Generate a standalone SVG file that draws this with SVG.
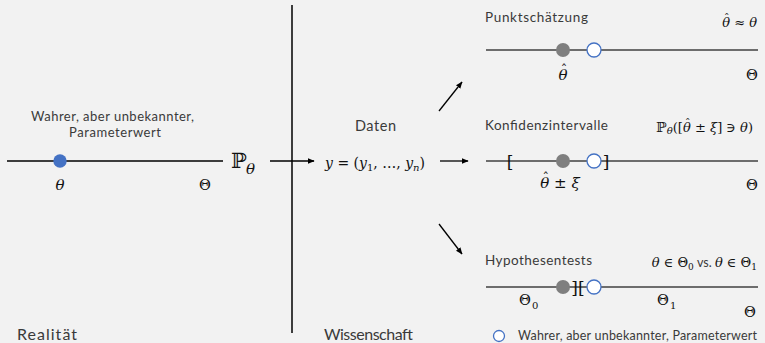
<svg xmlns="http://www.w3.org/2000/svg" width="765" height="343" viewBox="0 0 765 343">
<style>
.sans{font-family:Lato,"Open Sans","Liberation Sans",sans-serif;fill:#3a3a3a}
.math{font-family:"DejaVu Serif","Liberation Serif",serif;fill:#111}
.it{font-style:italic}
.axis{stroke:#404040;stroke-width:1.3;fill:none}
.blk{stroke:#000;stroke-width:1.3;fill:none}
.est{fill:#7f7f7f}
.true{fill:#fff;stroke:#4472c4;stroke-width:1.3}
</style>
<defs>
<marker id="ah" viewBox="0 0 10 10" refX="9" refY="5" markerWidth="7" markerHeight="7" orient="auto" markerUnits="userSpaceOnUse">
<path d="M0,1 L10,5 L0,9 Z" fill="#000"/>
</marker>
</defs>
<rect width="765" height="343" fill="#f2f2f2"/>
<line x1="292" y1="5" x2="292" y2="333" stroke="#000" stroke-width="1.5"/>
<g id="reality">
<text class="sans" x="31" y="121" font-size="13" textLength="163" lengthAdjust="spacing">Wahrer, aber unbekannter,</text>
<text class="sans" x="69" y="137" font-size="13" textLength="92" lengthAdjust="spacing">Parameterwert</text>
<line class="blk" x1="7" y1="161" x2="223" y2="161"/>
<circle cx="60" cy="161" r="6.7" fill="#4472c4"/>
<text class="math it" x="60" y="190" font-size="15" text-anchor="middle">θ</text>
<text class="math" x="205" y="190" font-size="14.5" text-anchor="middle">Θ</text>
<text class="math" x="231" y="168" font-size="21">ℙ</text>
<text class="math it" x="246" y="174" font-size="15">θ</text>
<text class="sans" x="17" y="340" font-size="16" textLength="60" lengthAdjust="spacing">Realität</text>
</g>
<g id="data">
<text class="sans" x="355" y="131" font-size="14.5" textLength="41" lengthAdjust="spacing">Daten</text>
<text class="math" x="375" y="168" font-size="14" text-anchor="middle"><tspan class="it">y</tspan> = (<tspan class="it">y</tspan><tspan font-size="10" dy="3">1</tspan><tspan dy="-3">, …, </tspan><tspan class="it">y</tspan><tspan class="it" font-size="10" dy="3">n</tspan><tspan dy="-3">)</tspan></text>
<text class="sans" x="324" y="340" font-size="16" textLength="89" lengthAdjust="spacing">Wissenschaft</text>
</g>
<g id="connectors">
<line class="blk" x1="270" y1="161" x2="314" y2="161" marker-end="url(#ah)"/>
<line class="blk" x1="440" y1="161" x2="468" y2="161" marker-end="url(#ah)"/>
<line class="blk" x1="439" y1="111" x2="462" y2="82" marker-end="url(#ah)"/>
<line class="blk" x1="439" y1="224" x2="462" y2="254" marker-end="url(#ah)"/>
</g>
<g id="punkt">
<text class="sans" x="485" y="22" font-size="13.5" textLength="103" lengthAdjust="spacing">Punktschätzung</text>
<text class="math" x="757" y="27" font-size="13" text-anchor="end"><tspan class="it">θ</tspan><tspan font-size="11" dx="-5.9" dy="-5">ˆ</tspan><tspan dx="0.4" dy="5"> ≈ </tspan><tspan class="it">θ</tspan></text>
<line class="axis" x1="486" y1="50" x2="758" y2="50"/>
<circle class="est" cx="563" cy="50" r="7"/>
<circle class="true" cx="594" cy="50" r="7"/>
<text class="math" x="563" y="80" font-size="15" text-anchor="middle"><tspan class="it">θ</tspan><tspan font-size="13" dx="-6.8" dy="-6">ˆ</tspan></text>
<text class="math" x="752" y="80" font-size="14.5" text-anchor="middle">Θ</text>
</g>
<g id="konfidenz">
<text class="sans" x="485" y="130" font-size="13.5" textLength="123" lengthAdjust="spacing">Konfidenzintervalle</text>
<text class="math" x="753" y="132" font-size="13" text-anchor="end"><tspan font-size="14">ℙ</tspan><tspan class="it" font-size="10" dy="2">θ</tspan><tspan dy="-2">([</tspan><tspan class="it">θ</tspan><tspan font-size="11" dx="-5.9" dy="-5">ˆ</tspan><tspan dx="0.4" dy="5"> ± </tspan><tspan class="it">ξ</tspan>] ∋ <tspan class="it">θ</tspan>)</text>
<line class="axis" x1="486" y1="161" x2="758" y2="161"/>
<text class="math" x="510" y="168" font-size="17" text-anchor="middle">[</text>
<text class="math" x="606" y="168" font-size="17" text-anchor="middle">]</text>
<circle class="est" cx="563" cy="161" r="7"/>
<circle class="true" cx="594" cy="161" r="7"/>
<text class="math" x="560" y="188" font-size="15" text-anchor="middle"><tspan class="it">θ</tspan><tspan font-size="13" dx="-6.8" dy="-6">ˆ</tspan><tspan dx="0.3" dy="6"> ± </tspan><tspan class="it">ξ</tspan></text>
<text class="math" x="752" y="190" font-size="14.5" text-anchor="middle">Θ</text>
</g>
<g id="hypothese">
<text class="sans" x="485" y="265" font-size="13.5" textLength="107" lengthAdjust="spacing">Hypothesentests</text>
<text class="math" x="757" y="267" font-size="13" text-anchor="end"><tspan class="it">θ</tspan> ∈ Θ<tspan font-size="9" dy="3">0</tspan><tspan class="sans" dy="-3" font-size="12.5"> vs. </tspan><tspan class="it">θ</tspan> ∈ Θ<tspan font-size="9" dy="3">1</tspan></text>
<line class="axis" x1="486" y1="287" x2="758" y2="287"/>
<circle class="est" cx="563" cy="287" r="7"/>
<text class="math" x="578" y="294" font-size="17" text-anchor="middle">][</text>
<circle class="true" cx="594" cy="287" r="7"/>
<text class="math" y="305" font-size="14.5"><tspan x="519">Θ</tspan><tspan x="532" font-size="10" dy="4">0</tspan></text>
<text class="math" y="305" font-size="14.5"><tspan x="657">Θ</tspan><tspan x="670" font-size="10" dy="4">1</tspan></text>
<text class="math" x="750" y="317" font-size="14.5" text-anchor="middle">Θ</text>
</g>
<g id="legend">
<circle class="true" cx="499" cy="336" r="5.5"/>
<text class="sans" x="518" y="340" font-size="12.5" textLength="239" lengthAdjust="spacing">Wahrer, aber unbekannter, Parameterwert</text>
</g>
</svg>
